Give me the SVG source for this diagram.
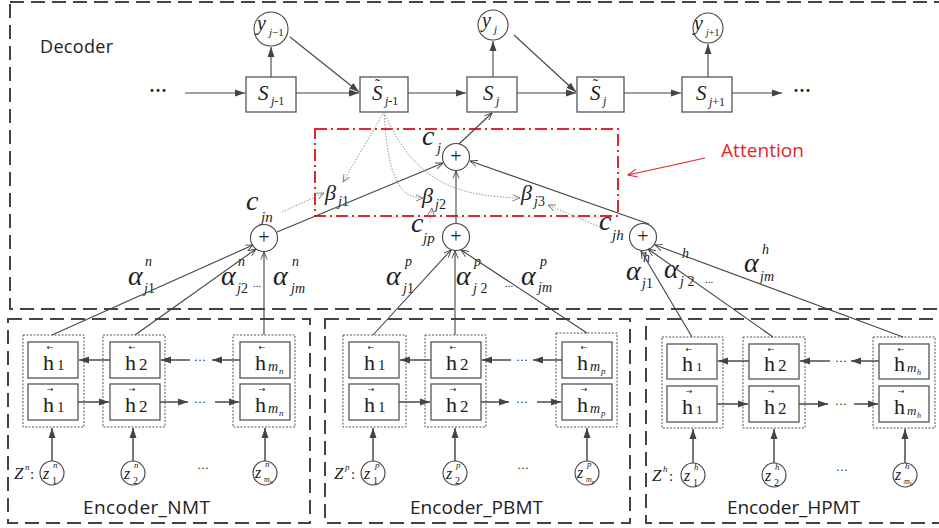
<svg xmlns="http://www.w3.org/2000/svg" width="939" height="528" viewBox="0 0 939 528">
<style>
.frame{fill:none;stroke:#444;stroke-width:2;stroke-dasharray:14,7}
.box{fill:#fff;stroke:#555;stroke-width:1.3}
.dbox{fill:none;stroke:#555;stroke-width:1;stroke-dasharray:2,1.5}
.circ{fill:#fff;stroke:#444;stroke-width:1.1}
.ln{fill:none;stroke:#444;stroke-width:1.1}
.eln{fill:none;stroke:#555;stroke-width:1.6}
.dot{fill:none;stroke:#888;stroke-width:0.9;stroke-dasharray:1.5,1.5}
.att{fill:none;stroke:#e3262b;stroke-width:2;stroke-dasharray:12,4,2,4}
.m{font-family:"Liberation Serif",serif;font-style:italic;fill:#222}
.r{font-family:"Liberation Serif",serif;fill:#222}
.s{font-family:"Open Sans",sans-serif;fill:#222}
.acc{font-family:"DejaVu Sans",sans-serif;font-size:8px;fill:#222}
</style>
<defs>
<marker id="fa" markerWidth="10" markerHeight="8" refX="10" refY="4" orient="auto" markerUnits="userSpaceOnUse"><path d="M0,0.5 L10,4 L0,7.5 z" fill="#444"/></marker>
<marker id="oa" markerWidth="8" markerHeight="8" refX="7.5" refY="4" orient="auto" markerUnits="userSpaceOnUse"><path d="M0,0.8 L7.5,4 L0,7.2" fill="none" stroke="#444" stroke-width="0.9"/></marker>
<marker id="ga" markerWidth="8" markerHeight="8" refX="7.5" refY="4" orient="auto" markerUnits="userSpaceOnUse"><path d="M0,0.8 L7.5,4 L0,7.2" fill="none" stroke="#777" stroke-width="0.9"/></marker>
<marker id="ra" markerWidth="10" markerHeight="10" refX="9" refY="5" orient="auto" markerUnits="userSpaceOnUse"><path d="M0,1 L9,5 L0,9" fill="none" stroke="#e3262b" stroke-width="1.1"/></marker>
</defs>

<!-- frames -->
<g id="decoder-frame">
<rect class="frame" x="10" y="2" width="940" height="307"/>
<text class="s" x="40" y="53" font-size="18" textLength="73">Decoder</text>
</g>
<g id="attention-frame">
<rect class="att" x="315" y="129" width="303" height="87"/>
<text x="721" y="157" font-family="Open Sans, sans-serif" font-size="19" fill="#e3262b" textLength="83">Attention</text>
</g>
<g id="encoder-nmt-frame">
<rect class="frame" x="8" y="319" width="302" height="204"/>
<text class="s" x="83" y="514" font-size="19" textLength="127">Encoder_NMT</text>
</g>
<g id="encoder-pbmt-frame">
<rect class="frame" x="325" y="319" width="305" height="204"/>
<text class="s" x="410" y="514" font-size="19" textLength="133">Encoder_PBMT</text>
</g>
<g id="encoder-hpmt-frame">
<rect class="frame" x="646" y="319" width="300" height="204"/>
<text class="s" x="727" y="514" font-size="19" textLength="133">Encoder_HPMT</text>
</g>

<!-- decoder nodes -->
<text class="r" x="149" y="97" font-size="18" font-weight="bold">···</text>
<text class="r" x="793" y="97" font-size="18" font-weight="bold">···</text>
<g id="y_jm1"><circle class="circ" cx="271" cy="29" r="17"/><text class="m" x="257" y="30" font-size="20">y</text><text class="m" x="269" y="36" font-size="11">j<tspan class="r" font-style="normal">−1</tspan></text></g>
<g id="y_j"><circle class="circ" cx="493" cy="25" r="15"/><text class="m" x="482" y="27" font-size="20">y</text><text class="m" x="494" y="33" font-size="11">j</text></g>
<g id="y_jp1"><circle class="circ" cx="708" cy="28" r="15"/><text class="m" x="694" y="30" font-size="20">y</text><text class="m" x="706" y="36" font-size="10">j<tspan class="r" font-style="normal">+1</tspan></text></g>
<g id="S_jm1"><rect class="box" x="246" y="77" width="50" height="35"/><text class="m" x="258" y="100" font-size="21">S</text><text class="m" x="271" y="105" font-size="12">j<tspan class="r" font-style="normal">-1</tspan></text></g>
<g id="St_jm1"><rect class="box" x="360" y="77" width="48" height="35"/><text class="m" x="372" y="100" font-size="21">S</text><text class="r" x="375" y="90" font-size="16">˜</text><text class="m" x="385" y="105" font-size="12">j<tspan class="r" font-style="normal">-1</tspan></text></g>
<g id="S_j"><rect class="box" x="467" y="77" width="50" height="35"/><text class="m" x="483" y="100" font-size="21">S</text><text class="m" x="496" y="105" font-size="12">j</text></g>
<g id="St_j"><rect class="box" x="577" y="77" width="47" height="35"/><text class="m" x="590" y="100" font-size="21">S</text><text class="r" x="593" y="90" font-size="16">˜</text><text class="m" x="603" y="105" font-size="12">j</text></g>
<g id="S_jp1"><rect class="box" x="682" y="77" width="50" height="35"/><text class="m" x="696" y="100" font-size="21">S</text><text class="m" x="709" y="106" font-size="12">j<tspan class="r" font-style="normal">+1</tspan></text></g>

<!-- attention nodes -->
<g id="c_j"><circle class="circ" cx="456" cy="157" r="13.5"/><text class="r" x="456" y="163" font-size="20" text-anchor="middle">+</text><text class="m" x="422" y="145" font-size="28">c</text><text class="m" x="437" y="153" font-size="15">j</text></g>
<g id="c_jn"><circle class="circ" cx="264" cy="238" r="13.5"/><text class="r" x="264" y="244" font-size="20" text-anchor="middle">+</text><text class="m" x="246" y="210" font-size="28">c</text><text class="m" x="261" y="222" font-size="15">jn</text></g>
<g id="c_jp"><circle class="circ" cx="456" cy="237" r="13.5"/><text class="r" x="456" y="243" font-size="20" text-anchor="middle">+</text><text class="m" x="411" y="232" font-size="28">c</text><text class="m" x="423" y="243" font-size="15">jp</text></g>
<g id="c_jh"><circle class="circ" cx="643" cy="237" r="13.5"/><text class="r" x="643" y="243" font-size="20" text-anchor="middle">+</text><text class="m" x="599" y="230" font-size="28">c</text><text class="m" x="612" y="240" font-size="15">jh</text></g>
<g id="beta_j1"><text class="m" x="325" y="200" font-size="22">β</text><text class="m" x="338" y="206" font-size="14">j<tspan class="r" font-style="normal">1</tspan></text></g>
<g id="beta_j2"><text class="m" x="422" y="203" font-size="22">β</text><text class="m" x="435" y="209" font-size="14">j<tspan class="r" font-style="normal">2</tspan></text></g>
<g id="beta_j3"><text class="m" x="521" y="200" font-size="22">β</text><text class="m" x="534" y="206" font-size="14">j<tspan class="r" font-style="normal">3</tspan></text></g>

<!-- alpha labels -->
<g id="alpha-labels">
<text class="m" x="128" y="285" font-size="28">α</text><text class="m" x="145" y="266" font-size="14">n</text><text class="m" x="144" y="293" font-size="14">j<tspan class="r" font-style="normal">1</tspan></text>
<text class="m" x="221" y="285" font-size="28">α</text><text class="m" x="238" y="266" font-size="14">n</text><text class="m" x="237" y="293" font-size="14">j<tspan class="r" font-style="normal">2</tspan></text><text class="r" x="253" y="287" font-size="11">...</text>
<text class="m" x="273" y="285" font-size="28">α</text><text class="m" x="292" y="266" font-size="14">n</text><text class="m" x="291" y="293" font-size="14">jm</text>
<text class="m" x="386" y="285" font-size="28">α</text><text class="m" x="405" y="266" font-size="14">p</text><text class="m" x="403" y="293" font-size="14">j<tspan class="r" font-style="normal">1</tspan></text>
<text class="m" x="456" y="285" font-size="28">α</text><text class="m" x="474" y="266" font-size="14">p</text><text class="m" x="473" y="293" font-size="14">j<tspan class="r" font-style="normal"> 2</tspan></text><text class="r" x="505" y="287" font-size="11">...</text>
<text class="m" x="521" y="285" font-size="28">α</text><text class="m" x="540" y="266" font-size="14">p</text><text class="m" x="538" y="292" font-size="14">jm</text>
<text class="m" x="626" y="280" font-size="28">α</text><text class="m" x="643" y="262" font-size="14">h</text><text class="m" x="642" y="288" font-size="14">j<tspan class="r" font-style="normal">1</tspan></text>
<text class="m" x="664" y="278" font-size="28">α</text><text class="m" x="682" y="258" font-size="14">h</text><text class="m" x="680" y="286" font-size="14">j<tspan class="r" font-style="normal"> 2</tspan></text><text class="r" x="705" y="283" font-size="11">...</text>
<text class="m" x="744" y="272" font-size="28">α</text><text class="m" x="762" y="254" font-size="14">h</text><text class="m" x="760" y="281" font-size="14">jm</text>
</g>

<!-- encoder NMT nodes -->
<g id="nmt-col1"><rect class="dbox" x="23" y="335" width="61" height="92"/>
<rect class="box" x="28" y="342" width="50" height="36"/><text class="acc" x="50" y="350" text-anchor="middle">←</text><text class="r" x="43" y="370" font-size="22">h</text><text class="r" x="57" y="370" font-size="15">1</text>
<rect class="box" x="28" y="384" width="50" height="36"/><text class="acc" x="50" y="392" text-anchor="middle">→</text><text class="r" x="43" y="412" font-size="22">h</text><text class="r" x="57" y="412" font-size="15">1</text></g>
<g id="nmt-col2"><rect class="dbox" x="103" y="335" width="62" height="92"/>
<rect class="box" x="110" y="342" width="50" height="36"/><text class="acc" x="132" y="350" text-anchor="middle">←</text><text class="r" x="125" y="370" font-size="22">h</text><text class="r" x="139" y="370" font-size="17">2</text>
<rect class="box" x="110" y="384" width="50" height="36"/><text class="acc" x="132" y="392" text-anchor="middle">→</text><text class="r" x="125" y="412" font-size="22">h</text><text class="r" x="139" y="412" font-size="17">2</text></g>
<g id="nmt-col3"><rect class="dbox" x="233" y="335" width="62" height="92"/>
<rect class="box" x="240" y="342" width="50" height="36"/><text class="acc" x="262" y="350" text-anchor="middle">←</text><text class="r" x="255" y="370" font-size="22">h</text><text class="m" x="268" y="371" font-size="14">m</text><text class="m" x="279" y="374" font-size="9">n</text>
<rect class="box" x="240" y="384" width="50" height="36"/><text class="acc" x="262" y="392" text-anchor="middle">→</text><text class="r" x="255" y="412" font-size="22">h</text><text class="m" x="268" y="413" font-size="14">m</text><text class="m" x="279" y="416" font-size="9">n</text></g>
<g id="nmt-z"><text class="m" x="14" y="479" font-size="17">Z</text><text class="m" x="25" y="470" font-size="9">n</text><text class="r" x="30" y="479" font-size="15">:</text>
<circle class="circ" cx="52" cy="473" r="12"/><text class="m" x="43" y="479" font-size="16">z</text><text class="m" x="53" y="468" font-size="9">n</text><text class="r" x="52" y="484" font-size="10">1</text>
<circle class="circ" cx="133" cy="473" r="12"/><text class="m" x="124" y="479" font-size="16">z</text><text class="m" x="134" y="468" font-size="9">n</text><text class="r" x="133" y="484" font-size="10">2</text>
<text class="r" x="197" y="472" font-size="12">···</text>
<circle class="circ" cx="265" cy="473" r="12"/><text class="m" x="255" y="478" font-size="16">z</text><text class="m" x="265" y="467" font-size="9">n</text><text class="m" x="264" y="482" font-size="8">m<tspan font-size="6" dy="2">n</tspan></text></g>

<!-- encoder PBMT nodes -->
<g id="pbmt-col1"><rect class="dbox" x="343" y="335" width="63" height="92"/>
<rect class="box" x="349" y="342" width="50" height="36"/><text class="acc" x="371" y="350" text-anchor="middle">←</text><text class="r" x="364" y="370" font-size="22">h</text><text class="r" x="378" y="370" font-size="15">1</text>
<rect class="box" x="349" y="384" width="50" height="36"/><text class="acc" x="371" y="392" text-anchor="middle">→</text><text class="r" x="364" y="412" font-size="22">h</text><text class="r" x="378" y="412" font-size="15">1</text></g>
<g id="pbmt-col2"><rect class="dbox" x="425" y="335" width="61" height="92"/>
<rect class="box" x="431" y="342" width="50" height="36"/><text class="acc" x="453" y="350" text-anchor="middle">←</text><text class="r" x="446" y="370" font-size="22">h</text><text class="r" x="460" y="370" font-size="17">2</text>
<rect class="box" x="431" y="384" width="50" height="36"/><text class="acc" x="453" y="392" text-anchor="middle">→</text><text class="r" x="446" y="412" font-size="22">h</text><text class="r" x="460" y="412" font-size="17">2</text></g>
<g id="pbmt-col3"><rect class="dbox" x="556" y="333" width="61" height="94"/>
<rect class="box" x="562" y="342" width="50" height="36"/><text class="acc" x="584" y="350" text-anchor="middle">←</text><text class="r" x="577" y="370" font-size="22">h</text><text class="m" x="590" y="371" font-size="14">m</text><text class="m" x="601" y="374" font-size="9">p</text>
<rect class="box" x="562" y="384" width="50" height="36"/><text class="acc" x="584" y="392" text-anchor="middle">→</text><text class="r" x="577" y="412" font-size="22">h</text><text class="m" x="590" y="413" font-size="14">m</text><text class="m" x="601" y="416" font-size="9">p</text></g>
<g id="pbmt-z"><text class="m" x="334" y="479" font-size="17">Z</text><text class="m" x="345" y="470" font-size="9">p</text><text class="r" x="351" y="479" font-size="15">:</text>
<circle class="circ" cx="373" cy="473" r="12"/><text class="m" x="364" y="479" font-size="16">z</text><text class="m" x="375" y="468" font-size="9">p</text><text class="r" x="373" y="484" font-size="10">1</text>
<circle class="circ" cx="455" cy="473" r="12"/><text class="m" x="446" y="479" font-size="16">z</text><text class="m" x="456" y="468" font-size="9">p</text><text class="r" x="455" y="484" font-size="10">2</text>
<text class="r" x="517" y="472" font-size="12">···</text>
<circle class="circ" cx="587" cy="473" r="12"/><text class="m" x="577" y="478" font-size="16">z</text><text class="m" x="587" y="467" font-size="9">p</text><text class="m" x="586" y="482" font-size="8">m<tspan font-size="6" dy="2">p</tspan></text></g>

<!-- encoder HPMT nodes -->
<g id="hpmt-col1"><rect class="dbox" x="662" y="337" width="61" height="91"/>
<rect class="box" x="667" y="344" width="50" height="35"/><text class="acc" x="689" y="352" text-anchor="middle">←</text><text class="r" x="682" y="371" font-size="22">h</text><text class="r" x="696" y="371" font-size="13">1</text>
<rect class="box" x="667" y="386" width="50" height="36"/><text class="acc" x="689" y="394" text-anchor="middle">→</text><text class="r" x="682" y="414" font-size="22">h</text><text class="r" x="696" y="414" font-size="13">1</text></g>
<g id="hpmt-col2"><rect class="dbox" x="743" y="337" width="62" height="91"/>
<rect class="box" x="749" y="344" width="50" height="35"/><text class="acc" x="771" y="352" text-anchor="middle">←</text><text class="r" x="764" y="371" font-size="22">h</text><text class="r" x="778" y="371" font-size="17">2</text>
<rect class="box" x="749" y="386" width="50" height="36"/><text class="acc" x="771" y="394" text-anchor="middle">→</text><text class="r" x="764" y="414" font-size="22">h</text><text class="r" x="778" y="414" font-size="17">2</text></g>
<g id="hpmt-col3"><rect class="dbox" x="873" y="337" width="62" height="91"/>
<rect class="box" x="879" y="344" width="50" height="35"/><text class="acc" x="901" y="352" text-anchor="middle">←</text><text class="r" x="894" y="371" font-size="22">h</text><text class="m" x="907" y="372" font-size="13">m</text><text class="m" x="917" y="375" font-size="8">h</text>
<rect class="box" x="879" y="386" width="50" height="36"/><text class="acc" x="901" y="394" text-anchor="middle">→</text><text class="r" x="894" y="414" font-size="22">h</text><text class="m" x="907" y="415" font-size="13">m</text><text class="m" x="917" y="418" font-size="8">h</text></g>
<g id="hpmt-z"><text class="m" x="652" y="481" font-size="17">Z</text><text class="m" x="663" y="472" font-size="9">h</text><text class="r" x="669" y="481" font-size="15">:</text>
<circle class="circ" cx="693" cy="475" r="12"/><text class="m" x="684" y="481" font-size="16">z</text><text class="m" x="694" y="470" font-size="9">h</text><text class="r" x="693" y="486" font-size="10">1</text>
<circle class="circ" cx="774" cy="475" r="12"/><text class="m" x="765" y="481" font-size="16">z</text><text class="m" x="775" y="470" font-size="9">h</text><text class="r" x="774" y="486" font-size="10">2</text>
<text class="r" x="836" y="474" font-size="12">···</text>
<circle class="circ" cx="905" cy="475" r="12"/><text class="m" x="895" y="480" font-size="16">z</text><text class="m" x="905" y="469" font-size="9">h</text><text class="m" x="904" y="484" font-size="8">m<tspan font-size="6" dy="2">h</tspan></text></g>

<!-- connectors -->
<g id="connectors">
<path class="ln" d="M185,93 H245" marker-end="url(#fa)"/>
<path class="ln" d="M271,77 V47" marker-end="url(#fa)"/>
<path class="ln" d="M290,37 L359,92" marker-end="url(#fa)"/>
<path class="ln" d="M296,93 H359" marker-end="url(#fa)"/>
<path class="ln" d="M408,93 H466" marker-end="url(#fa)"/>
<path class="ln" d="M493,77 V41" marker-end="url(#fa)"/>
<path class="ln" d="M514,35 L576,92" marker-end="url(#fa)"/>
<path class="ln" d="M517,93 H576" marker-end="url(#fa)"/>
<path class="ln" d="M624,93 H681" marker-end="url(#fa)"/>
<path class="ln" d="M708,77 V44" marker-end="url(#fa)"/>
<path class="ln" d="M732,93 H782" marker-end="url(#fa)"/>
<path class="ln" d="M459,144 L492,113" marker-end="url(#oa)"/>
<path class="ln" d="M277,232 L443,163" marker-end="url(#oa)"/>
<path class="ln" d="M456,223 V171" marker-end="url(#oa)"/>
<path class="ln" d="M649,224 L470,161" marker-end="url(#oa)"/>
<path class="dot" d="M384,112 L343,182" marker-end="url(#ga)"/>
<path class="dot" d="M384,112 C388,175 398,198 423,198" marker-end="url(#ga)"/>
<path class="dot" d="M384,112 C415,185 460,196 520,198" marker-end="url(#ga)"/>
<path class="dot" d="M282,212 L324,193" marker-end="url(#ga)"/>
<path class="dot" d="M430,222 L432,208" marker-end="url(#ga)"/>
<path class="dot" d="M600,227 L548,205" marker-end="url(#ga)"/>
<path d="M705,158 L628,175" fill="none" stroke="#e3262b" stroke-width="1.1" marker-end="url(#ra)"/>
<path class="ln" d="M52,335 L253,245" marker-end="url(#oa)"/>
<path class="ln" d="M135,335 L256,249" marker-end="url(#oa)"/>
<path class="ln" d="M264,335 V252" marker-end="url(#oa)"/>
<path class="ln" d="M373,335 L451,250" marker-end="url(#oa)"/>
<path class="ln" d="M455,335 V251" marker-end="url(#oa)"/>
<path class="ln" d="M587,333 L461,250" marker-end="url(#oa)"/>
<path class="ln" d="M692,337 L641,251" marker-end="url(#oa)"/>
<path class="ln" d="M773,337 L648,249" marker-end="url(#oa)"/>
<path class="ln" d="M903,337 L655,245" marker-end="url(#oa)"/>
<!-- NMT internal -->
<path class="eln" d="M110,360 H79" marker-end="url(#fa)"/>
<path class="eln" d="M190,360 H161" marker-end="url(#fa)"/>
<path class="eln" d="M240,360 H212" marker-end="url(#fa)"/>
<path class="eln" d="M78,402 H109" marker-end="url(#fa)"/>
<path class="eln" d="M160,402 H188" marker-end="url(#fa)"/>
<path class="eln" d="M215,402 H239" marker-end="url(#fa)"/>
<text class="r" x="194" y="364" font-size="12">···</text>
<text class="r" x="194" y="406" font-size="12">···</text>
<path class="eln" d="M52,461 V428" marker-end="url(#fa)"/>
<path class="eln" d="M133,461 V428" marker-end="url(#fa)"/>
<path class="eln" d="M265,461 V428" marker-end="url(#fa)"/>
<!-- PBMT internal -->
<path class="eln" d="M431,360 H400" marker-end="url(#fa)"/>
<path class="eln" d="M511,360 H482" marker-end="url(#fa)"/>
<path class="eln" d="M562,360 H533" marker-end="url(#fa)"/>
<path class="eln" d="M399,402 H430" marker-end="url(#fa)"/>
<path class="eln" d="M481,402 H509" marker-end="url(#fa)"/>
<path class="eln" d="M537,402 H561" marker-end="url(#fa)"/>
<text class="r" x="516" y="364" font-size="12">···</text>
<text class="r" x="516" y="406" font-size="12">···</text>
<path class="eln" d="M373,461 V428" marker-end="url(#fa)"/>
<path class="eln" d="M455,461 V428" marker-end="url(#fa)"/>
<path class="eln" d="M587,461 V428" marker-end="url(#fa)"/>
<!-- HPMT internal -->
<path class="eln" d="M749,361 H718" marker-end="url(#fa)"/>
<path class="eln" d="M830,361 H800" marker-end="url(#fa)"/>
<path class="eln" d="M879,361 H851" marker-end="url(#fa)"/>
<path class="eln" d="M717,404 H748" marker-end="url(#fa)"/>
<path class="eln" d="M799,404 H828" marker-end="url(#fa)"/>
<path class="eln" d="M854,404 H878" marker-end="url(#fa)"/>
<text class="r" x="835" y="365" font-size="12">···</text>
<text class="r" x="835" y="408" font-size="12">···</text>
<path class="eln" d="M693,463 V429" marker-end="url(#fa)"/>
<path class="eln" d="M774,463 V429" marker-end="url(#fa)"/>
<path class="eln" d="M905,463 V429" marker-end="url(#fa)"/>
</g>
</svg>
